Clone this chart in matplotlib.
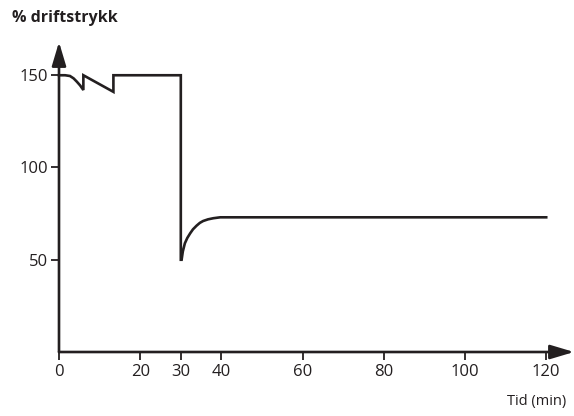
import matplotlib
matplotlib.use("Agg")
import matplotlib.pyplot as plt

plt.rcParams['font.family'] = ['Open Sans', 'DejaVu Sans']

# data
time = [0, 1.5, 2.7, 3.6, 4.4, 5.2, 6.0, 6.0, 13.4, 13.4, 30, 30, 30.2, 30.5, 31.0, 31.6, 32.3,
        33.0, 33.9, 34.7, 35.5, 36.7, 38.0, 39.7, 120]
pressure = [150, 150, 149.6, 148.3, 146.5, 144.5, 142, 150, 141, 150, 150, 50, 50, 54.5, 58.9, 61.8,
            64.3, 66.5, 68.5, 70.0, 71.0, 71.9, 72.5, 73.0, 73.0]
xticks = [0, 20, 30, 40, 60, 80, 100, 120]
yticks = [50, 100, 150]
ylabel = "% driftstrykk"
xlabel = "Tid (min)"

col = '#231f20'
W, H = 574, 416
fig = plt.figure(figsize=(W/100, H/100), dpi=100)
left_px, bottom_px, right_px, top_px = 59, 352, 574, 42
ax = fig.add_axes([left_px/W, (H-bottom_px)/H, (right_px-left_px)/W, (bottom_px-top_px)/H])
ax.set_xlim(0, (right_px-left_px)/4.06)
ax.set_ylim(0, (bottom_px-top_px)/1.845)

ax.plot(time, pressure, color=col, lw=1.9, solid_joinstyle='miter', clip_on=False)

for s in ['top', 'right', 'left', 'bottom']:
    ax.spines[s].set_visible(False)

ax.annotate('', xy=(0, 1), xycoords='axes fraction', xytext=(0, 0),
            arrowprops=dict(arrowstyle='-|>,head_length=1.44,head_width=0.43', lw=1.9,
                            color=col, shrinkA=0, shrinkB=0, mutation_scale=10))
ax.annotate('', xy=(1, 0), xycoords='axes fraction', xytext=(0, 0),
            arrowprops=dict(arrowstyle='-|>,head_length=1.44,head_width=0.43', lw=1.9,
                            color=col, shrinkA=0, shrinkB=0, mutation_scale=10))

ax.set_xticks(xticks)
ax.set_yticks(yticks)
ax.tick_params(axis='both', direction='out', length=6, width=1.3, color=col,
               labelsize=12, labelcolor=col)
ax.tick_params(axis='x', pad=3)
ax.tick_params(axis='y', pad=2)

fig.text(12/W, 1-18/H, ylabel, fontsize=11.5, fontweight='bold', color=col, va='center', ha='left')
fig.text(566/W, 1-401/H, xlabel, fontsize=10.5, color=col, va='center', ha='right')

fig.savefig('out.png', dpi=100)
